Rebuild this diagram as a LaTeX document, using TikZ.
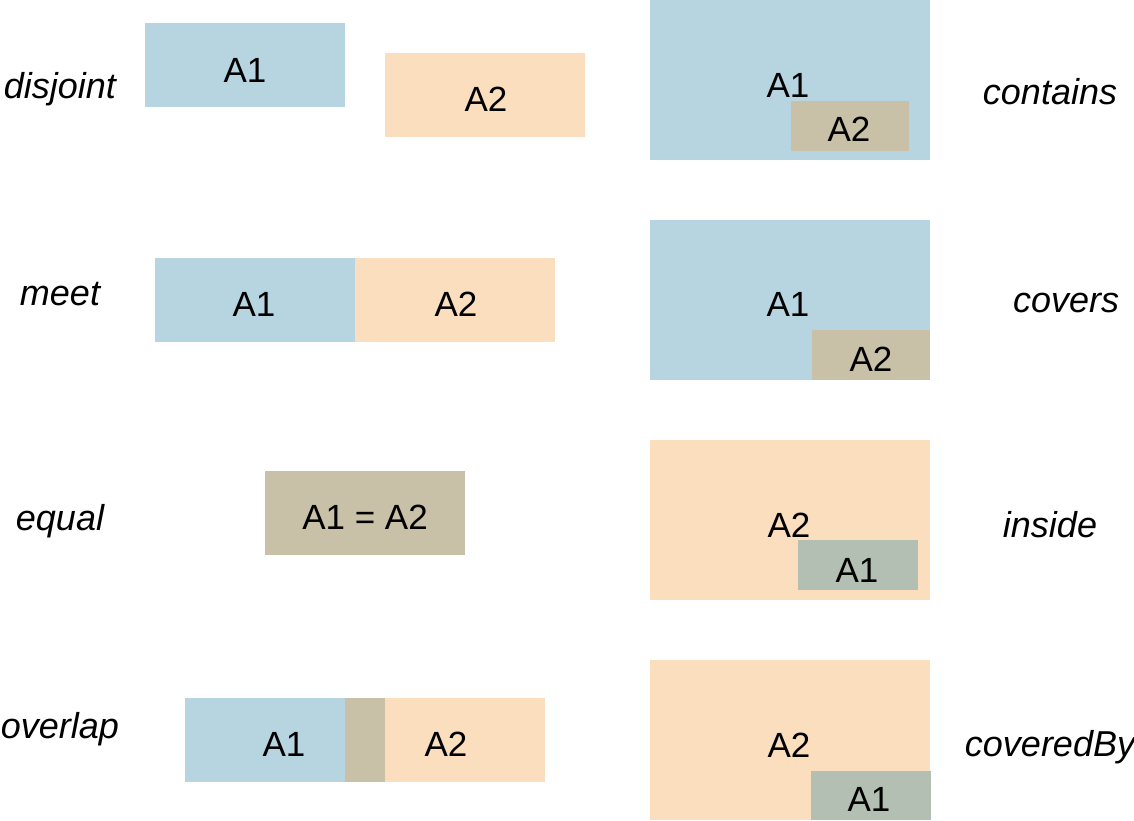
\documentclass[tikz,border=0pt]{standalone}
\usepackage{fontspec}
\setmainfont{Liberation Sans}
\definecolor{cblue}{RGB}{183,213,224}
\definecolor{cpeach}{RGB}{250,222,190}
\definecolor{ctan}{RGB}{200,193,167}
\definecolor{cgreen}{RGB}{180,191,179}
\tikzset{
  region/.style={draw=none, inner sep=0pt, outer sep=0pt, rectangle},
  bluereg/.style={region, fill=cblue},
  peachreg/.style={region, fill=cpeach},
  tanreg/.style={region, fill=ctan},
  greenreg/.style={region, fill=cgreen},
  txt/.style={inner sep=0pt, font=\fontsize{35}{42}\selectfont},
  rel/.style={inner sep=0pt, anchor=base, font=\fontsize{36}{43}\selectfont\itshape},
}
\begin{document}
\begin{tikzpicture}[x=1pt,y=-1pt]
\useasboundingbox[fill=white] (0,0) rectangle (1134,820);

% ---- disjoint
\node[bluereg, minimum width=200pt, minimum height=84pt] (djA1) at (245,65) {};
\node[peachreg, minimum width=200pt, minimum height=84pt] (djA2) at (485,95) {};
\node[txt] (djA1t) at (245,70) {A1};
\node[txt] (djA2t) at (486,99.5) {A2};
\node[rel] (ldisjoint) at (60,98) {disjoint};

% ---- meet
\node[bluereg, minimum width=200pt, minimum height=84pt] (mtA1) at (255,300) {};
\node[peachreg, minimum width=200pt, minimum height=84pt] (mtA2) at (455,300) {};
\node[txt] (mtA1t) at (254,304.5) {A1};
\node[txt] (mtA2t) at (456,304.5) {A2};
\node[rel] (lmeet) at (60,305) {meet};

% ---- equal
\node[tanreg, minimum width=200pt, minimum height=84pt] (eq) at (365,512.5) {};
\node[txt] (eqt) at (365,517) {A1 = A2};
\node[rel] (lequal) at (60,530) {equal};

% ---- overlap
\node[bluereg, minimum width=160pt, minimum height=84pt] (ovA1) at (265,740) {};
\node[tanreg, minimum width=40pt, minimum height=84pt] (ovI) at (365,740) {};
\node[peachreg, minimum width=160pt, minimum height=84pt] (ovA2) at (465,740) {};
\node[txt] (ovA1t) at (284,744.5) {A1};
\node[txt] (ovA2t) at (446,744.5) {A2};
\node[rel] (loverlap) at (60,738) {overlap};

% ---- contains
\node[bluereg, minimum width=280pt, minimum height=160pt] (ctA1) at (790,80) {};
\node[tanreg, minimum width=118pt, minimum height=50pt] (ctA2) at (850,126) {};
\node[txt] (ctA1t) at (788,85.5) {A1};
\node[txt] (ctA2t) at (849,129.5) {A2};
\node[rel] (lcontains) at (1050,104) {contains};

% ---- covers
\node[bluereg, minimum width=280pt, minimum height=160pt] (cvA1) at (790,300) {};
\node[tanreg, minimum width=118pt, minimum height=50pt] (cvA2) at (871,355) {};
\node[txt] (cvA1t) at (788,304.5) {A1};
\node[txt] (cvA2t) at (871,359.5) {A2};
\node[rel] (lcovers) at (1066,312) {covers};

% ---- inside
\node[peachreg, minimum width=280pt, minimum height=160pt] (inA2) at (790,520) {};
\node[greenreg, minimum width=120pt, minimum height=50pt] (inA1) at (858,565) {};
\node[txt] (inA2t) at (789,525) {A2};
\node[txt] (inA1t) at (857,570) {A1};
\node[rel] (linside) at (1050,537) {inside};

% ---- coveredBy
\node[peachreg, minimum width=280pt, minimum height=160pt] (cbA2) at (790,740) {};
\node[greenreg, minimum width=120pt, minimum height=49pt] (cbA1) at (871,795.5) {};
\node[txt] (cbA2t) at (789,745) {A2};
\node[txt] (cbA1t) at (869,799) {A1};
\node[rel] (lcoveredby) at (1050,756) {coveredBy};
\end{tikzpicture}
\end{document}
